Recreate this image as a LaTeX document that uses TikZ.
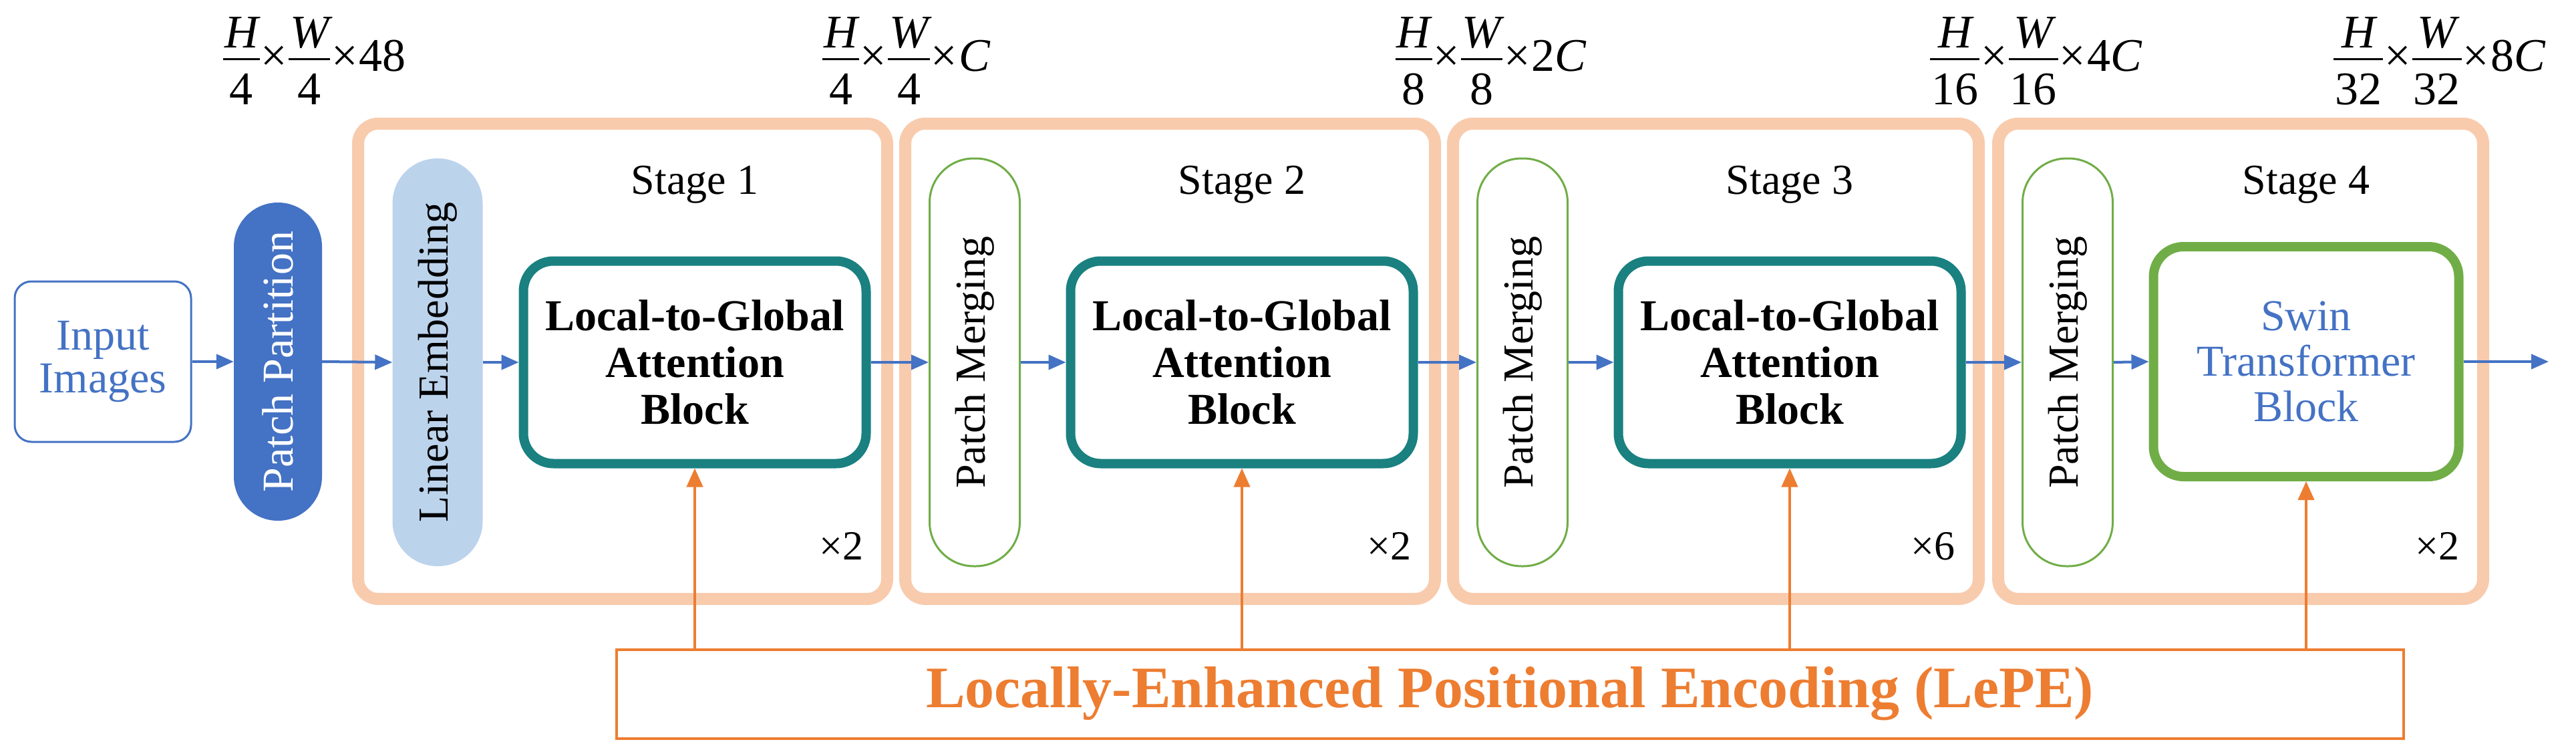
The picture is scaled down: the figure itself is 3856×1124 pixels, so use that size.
\documentclass[tikz,border=0pt]{standalone}
\usepackage{fontspec}
\setmainfont{Liberation Serif}
\usetikzlibrary{arrows.meta}
\definecolor{bl}{HTML}{4472C4}
\definecolor{lb}{HTML}{BCD3EC}
\definecolor{peach}{HTML}{F8CBAD}
\definecolor{teal}{HTML}{1A8080}
\definecolor{gr}{HTML}{70AD47}
\definecolor{org}{HTML}{ED7D31}
\newcommand{\fsz}[1]{\fontsize{#1}{#1}\selectfont}
\newcommand{\myfr}[2]{{\setlength{\arrayrulewidth}{3pt}\setlength{\tabcolsep}{2pt}\begin{tabular}{c}\itshape #1\\[-6pt]\hline\rule{0pt}{0.95em}#2\end{tabular}}}
\newcommand{\tms}{\kern2pt×\kern2pt}
\begin{document}
\begin{tikzpicture}[x=1pt,y=-1pt,
 stage/.style={draw=peach,line width=18pt,rounded corners=30pt},
 lga/.style={draw=teal,line width=14pt,rounded corners=45pt,minimum width=513pt,minimum height=303pt,align=center,font=\fsz{66}\bfseries,inner sep=0pt},
 pm/.style={draw=gr,line width=3pt,fill=white,rounded corners=66pt,rotate=90,minimum width=610pt,minimum height=135pt,font=\fsz{64},inner sep=0pt},
 ba/.style={draw=bl,line width=4pt,-{Triangle[length=26pt,width=22pt]}},
 oa/.style={draw=org,line width=4pt,-{Triangle[length=28pt,width=24pt]}},
 lab/.style={font=\fsz{70},inner sep=0pt},
 stxt/.style={font=\fsz{64}},
 rep/.style={font=\fsz{62}}]
\useasboundingbox (0,0) rectangle (3856,1124);
\draw[stage] (536,185) rectangle (1328,896);
\draw[stage] (1355,185) rectangle (2148,896);
\draw[stage] (2175,185) rectangle (2962,896);
\draw[stage] (2991,185) rectangle (3717,896);
\node[draw=bl,line width=3pt,rounded corners=25pt,minimum width=264pt,minimum height=240pt,align=center,text=bl,font=\fsz{66},inner sep=0pt] (in) at (154,541) {Input\\[-2pt]Images};
\node[fill=bl,rounded corners=66pt,rotate=90,minimum width=476pt,minimum height=132pt,text=white,font=\fsz{66},inner sep=0pt] (pp) at (416,541) {Patch Partition};
\node[fill=lb,rounded corners=67pt,rotate=90,minimum width=610pt,minimum height=135pt,font=\fsz{64},inner sep=0pt] (le) at (655,542) {Linear Embedding};
\node[lga] (b1) at (1040,542) {Local-to-Global\\[4pt]Attention\\[4pt]Block};
\node[pm] (m2) at (1459,542) {Patch Merging};
\node[lga] (b2) at (1859,542) {Local-to-Global\\[4pt]Attention\\[4pt]Block};
\node[pm] (m3) at (2279,542) {Patch Merging};
\node[lga] (b3) at (2679,542) {Local-to-Global\\[4pt]Attention\\[4pt]Block};
\node[pm] (m4) at (3095,542) {Patch Merging};
\node[draw=gr,line width=14pt,rounded corners=45pt,minimum width=457pt,minimum height=344pt,align=center,text=bl,font=\fsz{66},inner sep=0pt] (b4) at (3452,541) {Swin\\[2pt]Transformer\\[2pt]Block};
\coordinate (out) at (3815,541);
\node[stxt] (s1) at (1040,276) {Stage 1};
\node[stxt] (s2) at (1859,276) {Stage 2};
\node[stxt] (s3) at (2679,276) {Stage 3};
\node[stxt] (s4) at (3452,276) {Stage 4};
\node[rep] (r1) at (1259,817) {×2};
\node[rep] (r2) at (2079,817) {×2};
\node[rep] (r3) at (2893,817) {×6};
\node[rep] (r4) at (3648,817) {×2};
\node[draw=org,line width=4pt,minimum width=2675pt,minimum height=133pt,text=org,font=\fsz{88}\bfseries,inner sep=0pt] (pe) at (2260,1038) {Locally-Enhanced Positional Encoding (LePE)};
\node[lab] (l1) at (471,100) {\myfr{H}{4}\tms\myfr{W}{4}\tms48};
\node[lab] (l2) at (1357,100) {\myfr{H}{4}\tms\myfr{W}{4}\tms\textit{C}};
\node[lab] (l3) at (2232,100) {\myfr{H}{8}\tms\myfr{W}{8}\tms2\textit{C}};
\node[lab] (l4) at (3048,100) {\myfr{H}{16}\tms\myfr{W}{16}\tms4\textit{C}};
\node[lab] (l5) at (3652,100) {\myfr{H}{32}\tms\myfr{W}{32}\tms8\textit{C}};
\draw[ba] (in.east) -- (pp.north);
\draw[ba] (pp.south) -- (le.north);
\draw[ba] (le.south) -- (b1.west);
\draw[ba] (b1.east) -- (m2.north);
\draw[ba] (m2.south) -- (b2.west);
\draw[ba] (b2.east) -- (m3.north);
\draw[ba] (m3.south) -- (b3.west);
\draw[ba] (b3.east) -- (m4.north);
\draw[ba] (m4.south) -- (b4.west);
\draw[ba] (b4.east) -- (out);
\draw[oa] (pe.north -| b1.south) -- (b1.south);
\draw[oa] (pe.north -| b2.south) -- (b2.south);
\draw[oa] (pe.north -| b3.south) -- (b3.south);
\draw[oa] (pe.north -| b4.south) -- (b4.south);
\end{tikzpicture}
\end{document}
